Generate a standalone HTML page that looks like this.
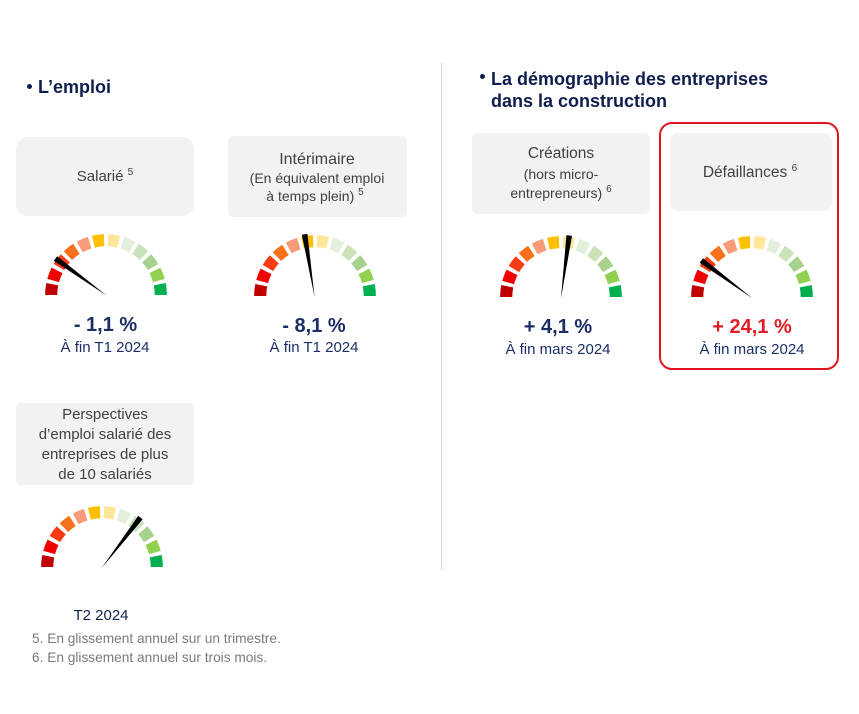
<!DOCTYPE html>
<html>
<head>
<meta charset="utf-8">
<style>
  html,body{margin:0;padding:0;background:#fff;}
  body{width:859px;height:714px;position:relative;overflow:hidden;font-family:"Liberation Sans",sans-serif;}
  .t{position:absolute;white-space:nowrap;text-align:center;font-family:"Liberation Sans",sans-serif;}
  .box{position:absolute;background:#F2F2F2;}
  .g{color:#404040;}
  .v{color:#1C2D66;font-weight:bold;font-size:20px;line-height:24px;}
  .s{color:#1C2D66;font-size:15px;line-height:18px;}
  .sup{font-size:10px;position:relative;top:-6px;}
  .h{position:absolute;color:#0F1D4E;font-weight:bold;font-size:18px;line-height:22px;white-space:nowrap;}
  .b{position:absolute;width:5px;height:5px;border-radius:50%;background:#0F1D4E;}
</style>
</head>
<body>

<!-- divider -->
<div style="position:absolute;left:441px;top:63px;width:1px;height:507px;background:#D4D4D4;"></div>

<!-- headers -->
<div class="b" style="left:27px;top:84px;"></div>
<div class="h" style="left:38px;top:76px;">L’emploi</div>
<div class="b" style="left:480px;top:74px;"></div>
<div class="h" style="left:491px;top:68px;">La démographie des entreprises<br>dans la construction</div>

<!-- boxes -->
<div class="box" style="left:16px;top:137px;width:178px;height:79px;border-radius:12px;"></div>
<div class="box" style="left:228px;top:136px;width:179px;height:81px;border-radius:5px;"></div>
<div class="box" style="left:472px;top:133px;width:178px;height:81px;border-radius:6px;"></div>
<div class="box" style="left:670px;top:133px;width:162px;height:78px;border-radius:8px;"></div>
<div class="box" style="left:16px;top:403px;width:178px;height:82px;border-radius:5px;"></div>

<!-- red highlight border -->
<div style="position:absolute;left:659px;top:122px;width:180px;height:248px;box-sizing:border-box;border:2px solid #E0141C;border-radius:13px;"></div>

<!-- box texts -->
<div class="t g" style="left:15px;width:180px;top:168px;font-size:15px;line-height:18px;">Salarié <span class="sup">5</span></div>

<div class="t g" style="left:227px;width:180px;top:150px;font-size:16px;line-height:19.2px;">Intérimaire</div>
<div class="t g" style="left:227px;width:180px;top:169.7px;font-size:14px;line-height:16.8px;">(En équivalent emploi</div>
<div class="t g" style="left:225px;width:180px;top:187.7px;font-size:14px;line-height:16.8px;">à temps plein) <span class="sup">5</span></div>

<div class="t g" style="left:471px;width:180px;top:145.3px;font-size:15.5px;line-height:18.6px;">Créations</div>
<div class="t g" style="left:471px;width:180px;top:166px;font-size:14px;line-height:16.8px;">(hors micro-</div>
<div class="t g" style="left:471px;width:180px;top:185px;font-size:14px;line-height:16.8px;">entrepreneurs) <span class="sup">6</span></div>

<div class="t g" style="left:660px;width:180px;top:163.6px;font-size:15.5px;line-height:18.6px;">Défaillances <span class="sup">6</span></div>

<div class="t g" style="left:15px;width:180px;top:404.6px;font-size:15px;line-height:20.3px;">Perspectives<br>d’emploi salarié des<br>entreprises de plus<br>de 10 salariés</div>

<!-- values -->
<div class="t v" style="left:15.5px;width:180px;top:313px;">- 1,1 %</div>
<div class="t s" style="left:15px;width:180px;top:338.8px;">À fin T1 2024</div>

<div class="t v" style="left:224px;width:180px;top:314px;">- 8,1 %</div>
<div class="t s" style="left:224px;width:180px;top:338.8px;">À fin T1 2024</div>

<div class="t v" style="left:468px;width:180px;top:315px;">+ 4,1 %</div>
<div class="t s" style="left:468px;width:180px;top:340.8px;">À fin mars 2024</div>

<div class="t v" style="left:662px;width:180px;top:315px;color:#E31B23;">+ 24,1 %</div>
<div class="t s" style="left:662px;width:180px;top:340.8px;">À fin mars 2024</div>

<div class="t s" style="left:11px;width:180px;top:606.8px;color:#13214F;">T2 2024</div>

<!-- footnotes -->
<div style="position:absolute;left:32px;top:628.7px;font-size:13.7px;line-height:19px;color:#7A7A7A;white-space:nowrap;">5. En glissement annuel sur un trimestre.<br>6. En glissement annuel sur trois mois.</div>

<!-- gauges -->
<svg width="859" height="714" style="position:absolute;left:0;top:0;" xmlns="http://www.w3.org/2000/svg">
  <defs>
    <g id="gauge">
      <path fill="#C00000" d="M-60,0 A60,60 0 0 1 -58.83,-11.79 L-47.06,-9.43 A48,48 0 0 0 -48,0 Z"/>
      <path fill="#F20000" d="M-57.86,-15.86 A60,60 0 0 1 -53.62,-26.93 L-42.89,-21.54 A48,48 0 0 0 -46.29,-12.69 Z"/>
      <path fill="#FA3C14" d="M-51.61,-30.61 A60,60 0 0 1 -44.59,-40.15 L-35.67,-32.12 A48,48 0 0 0 -41.28,-24.48 Z"/>
      <path fill="#F7711B" d="M-41.68,-43.16 A60,60 0 0 1 -32.39,-50.51 L-25.91,-40.41 A48,48 0 0 0 -33.35,-34.53 Z"/>
      <path fill="#F89B78" d="M-28.79,-52.64 A60,60 0 0 1 -17.87,-57.28 L-14.30,-45.82 A48,48 0 0 0 -23.03,-42.12 Z"/>
      <path fill="#FFC000" d="M-13.84,-58.38 A60,60 0 0 1 -2.09,-59.96 L-1.68,-47.97 A48,48 0 0 0 -11.07,-46.70 Z"/>
      <path fill="#FFE699" d="M2.09,-59.96 A60,60 0 0 1 13.84,-58.38 L11.07,-46.70 A48,48 0 0 0 1.68,-47.97 Z"/>
      <path fill="#E2EFDA" d="M17.87,-57.28 A60,60 0 0 1 28.79,-52.64 L23.03,-42.12 A48,48 0 0 0 14.30,-45.82 Z"/>
      <path fill="#C9E2B8" d="M32.39,-50.51 A60,60 0 0 1 41.68,-43.16 L33.35,-34.53 A48,48 0 0 0 25.91,-40.41 Z"/>
      <path fill="#A9D18E" d="M44.59,-40.15 A60,60 0 0 1 51.61,-30.61 L41.28,-24.48 A48,48 0 0 0 35.67,-32.12 Z"/>
      <path fill="#92D050" d="M53.62,-26.93 A60,60 0 0 1 57.86,-15.86 L46.29,-12.69 A48,48 0 0 0 42.89,-21.54 Z"/>
      <path fill="#00B050" d="M58.83,-11.79 A60,60 0 0 1 60,0 L48,0 A48,48 0 0 0 47.06,-9.43 Z"/>
    </g>
    <polygon id="needle" points="0.6,0 -63,-2.8 -63,2.8" fill="#000"/>
  </defs>

  <use href="#gauge" transform="translate(106,295) scale(1.015)"/>
  <use href="#needle" transform="translate(106.5,295.5) rotate(36)"/>

  <use href="#gauge" transform="translate(315,296) scale(1.015)"/>
  <use href="#needle" transform="translate(314.5,296.5) rotate(81)"/>

  <use href="#gauge" transform="translate(561,297) scale(1.015)"/>
  <use href="#needle" transform="translate(561,298) rotate(97.5)"/>

  <use href="#gauge" transform="translate(752,297) scale(1.015)"/>
  <use href="#needle" transform="translate(752,298) rotate(36.5)"/>

  <use href="#gauge" transform="translate(102,567) scale(1.015)"/>
  <use href="#needle" transform="translate(102,567.5) rotate(127.6)"/>
</svg>

</body>
</html>
